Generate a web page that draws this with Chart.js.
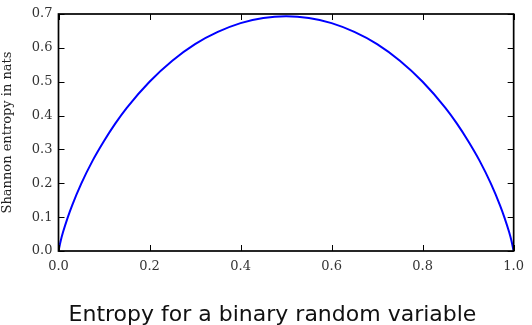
<!DOCTYPE html>
<html><head><meta charset="utf-8">
<script src="https://cdn.jsdelivr.net/npm/chart.js@4"></script>
<style>html,body{margin:0;padding:0;background:#fff}#w{width:532px;height:325px}</style>
</head><body><div id="w"><canvas id="c"></canvas></div>
<script>
const pValues = [0, 0.005, 0.01, 0.02, 0.03, 0.05, 0.075, 0.1, 0.125, 0.15, 0.2, 0.25, 0.3, 0.35, 0.4, 0.45, 0.5, 0.55, 0.6, 0.65, 0.7, 0.75, 0.8, 0.85, 0.875, 0.9, 0.925, 0.95, 0.97, 0.98, 0.99, 0.995, 1];
const entropyValues = [0, 0.031, 0.056, 0.098, 0.135, 0.199, 0.267, 0.325, 0.377, 0.423, 0.500, 0.562, 0.611, 0.647, 0.673, 0.688, 0.693, 0.688, 0.673, 0.647, 0.611, 0.562, 0.500, 0.423, 0.377, 0.325, 0.267, 0.199, 0.135, 0.098, 0.056, 0.031, 0];
const xTicks = [0, 0.2, 0.4, 0.6, 0.8, 1.0];
const yTicks = [0, 0.1, 0.2, 0.3, 0.4, 0.5, 0.6, 0.7];
const titleText = 'Entropy for a binary random variable';
const yLabel = 'Shannon entropy in nats';

const serif = "'DejaVu Serif', serif";

const framePlugin = {
  id: 'frame',
  afterDatasetsDraw(chart) {
    const {ctx, chartArea: a, scales: {x, y}} = chart;
    ctx.save();
    ctx.strokeStyle = '#000';
    ctx.lineWidth = 1;
    const L = 6;
    ctx.beginPath();
    xTicks.forEach(v => {
      const px = Math.round(x.getPixelForValue(v)) + 0.5;
      ctx.moveTo(px, a.bottom); ctx.lineTo(px, a.bottom - L);
      ctx.moveTo(px, a.top); ctx.lineTo(px, a.top + L);
    });
    yTicks.forEach(v => {
      const py = Math.round(y.getPixelForValue(v)) + 0.5;
      ctx.moveTo(a.left, py); ctx.lineTo(a.left + L, py);
      ctx.moveTo(a.right, py); ctx.lineTo(a.right - L, py);
    });
    ctx.stroke();
    ctx.lineWidth = 1.7;
    ctx.strokeRect(a.left, a.top, a.right - a.left, a.bottom - a.top);
    ctx.restore();
  }
};

const bottomTitle = {
  id: 'bottomTitle',
  afterDraw(chart) {
    const {ctx} = chart;
    ctx.save();
    ctx.fillStyle = '#111';
    ctx.font = "22px 'DejaVu Sans', sans-serif";
    ctx.textAlign = 'center';
    ctx.textBaseline = 'alphabetic';
    ctx.fillText(titleText, 272.5, 321);
    ctx.restore();
  }
};

new Chart(document.getElementById('c'), {
  type: 'line',
  data: {
    datasets: [{
      data: pValues.map((p, i) => ({x: p, y: entropyValues[i]})),
      borderColor: '#0000ff',
      borderWidth: 2,
      pointRadius: 0,
      fill: false,
      cubicInterpolationMode: 'monotone'
    }]
  },
  options: {
    responsive: true,
    maintainAspectRatio: false,
    animation: false,
    layout: {padding: {top: 14, right: 14.5, left: 0, bottom: 44}},
    plugins: {
      legend: {display: false},
      tooltip: {enabled: false},
      title: {display: false}
    },
    scales: {
      x: {
        type: 'linear', min: 0, max: 1,
        afterBuildTicks: s => { s.ticks = xTicks.map(v => ({value: v})); },
        afterFit: s => { s.height = 30; },
        grid: {display: false, drawTicks: false},
        border: {display: false},
        ticks: {
          color: '#333', padding: 8,
          font: {family: serif, size: 13},
          maxRotation: 0,
          callback: v => v.toFixed(1)
        }
      },
      y: {
        type: 'linear', min: 0, max: 0.7,
        afterBuildTicks: s => { s.ticks = yTicks.map(v => ({value: v})); },
        afterFit: s => { s.width = 58.5; },
        grid: {display: false, drawTicks: false},
        border: {display: false},
        title: {
          display: true, text: yLabel, color: '#222',
          font: {family: serif, size: 13}, padding: {top: 0, bottom: 4}
        },
        ticks: {
          color: '#333', padding: 6,
          font: {family: serif, size: 13},
          callback: v => v.toFixed(1)
        }
      }
    }
  },
  plugins: [framePlugin, bottomTitle]
});
</script>
</body></html>
